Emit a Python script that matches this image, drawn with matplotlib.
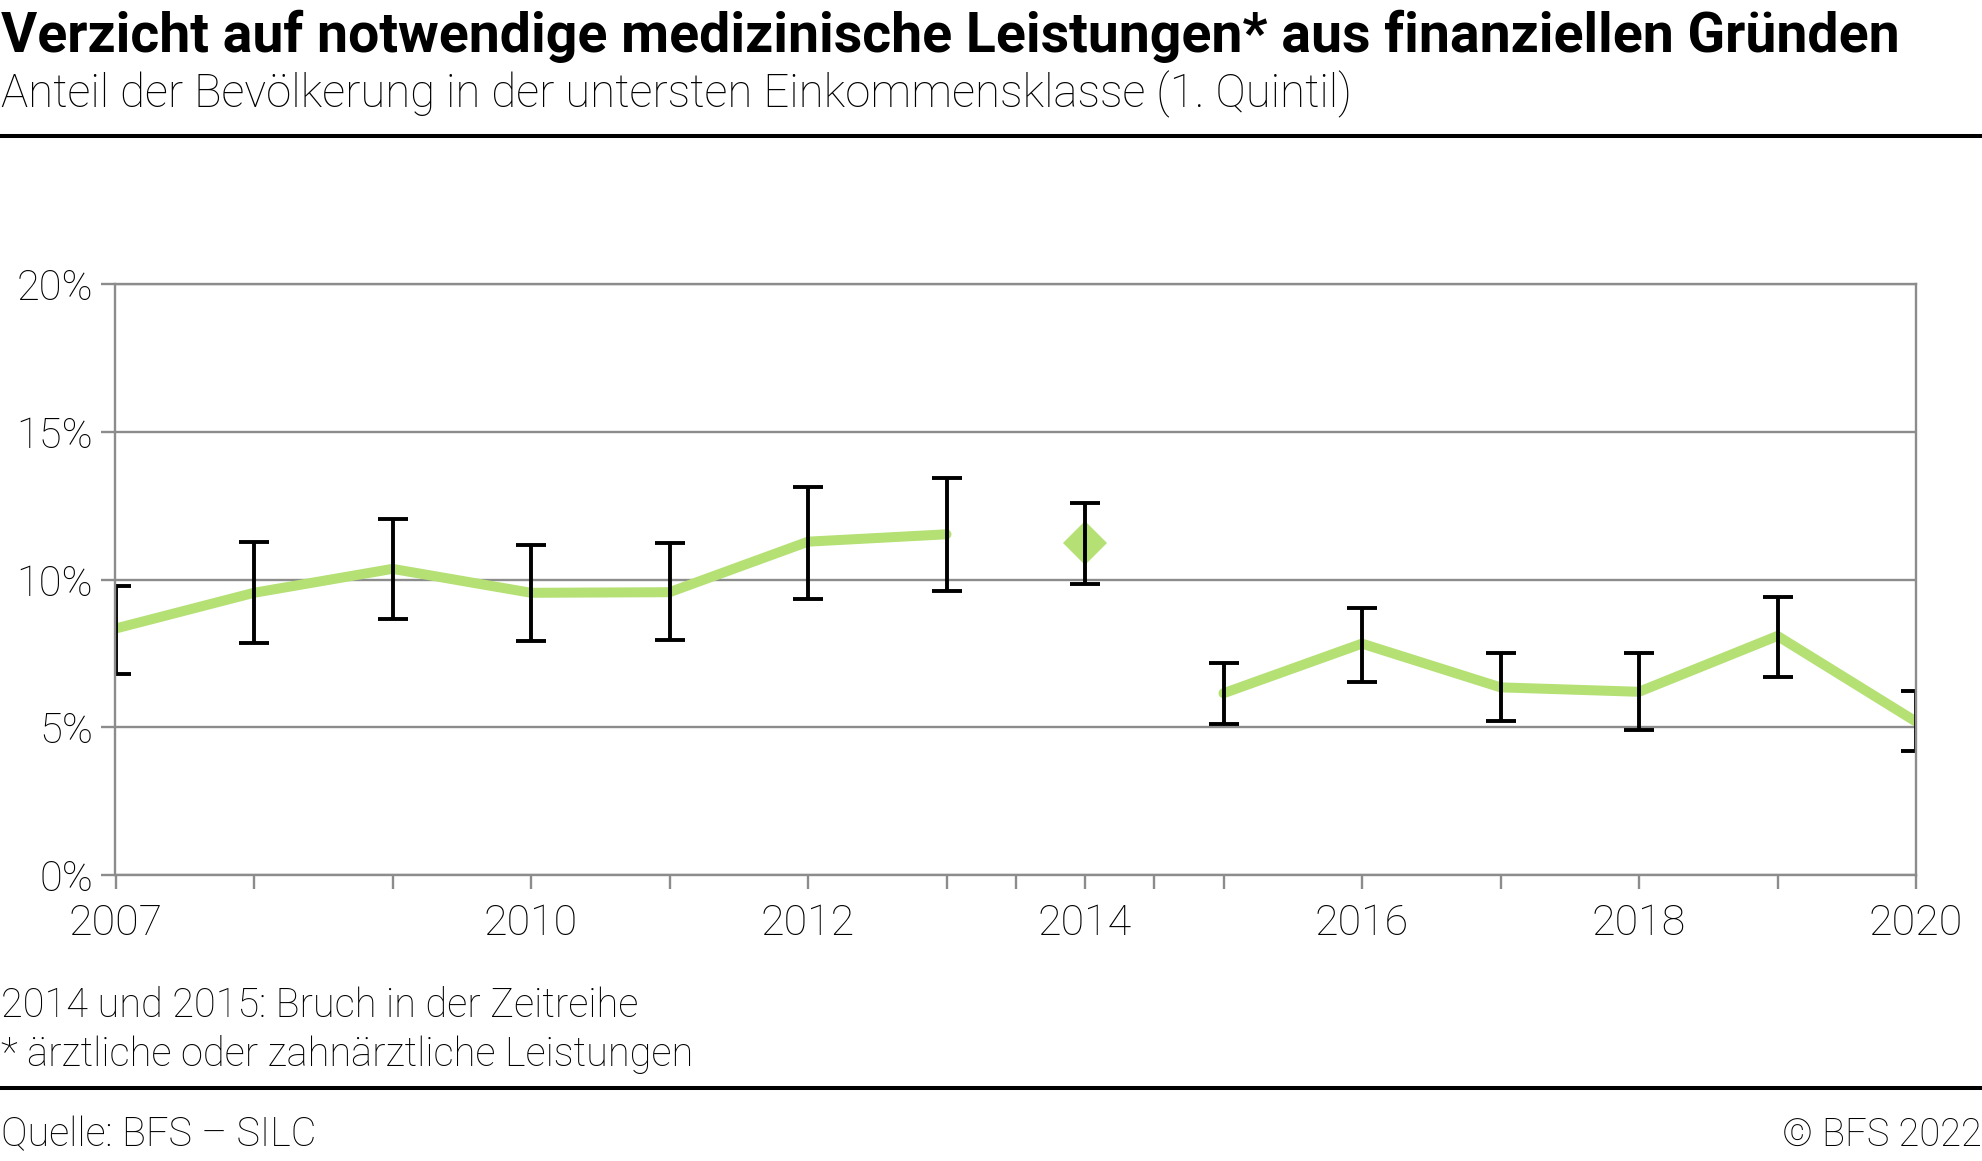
import numpy as np
import matplotlib
matplotlib.use('Agg')
import matplotlib.pyplot as plt

# Werte (in %)
jahre = [2007, 2008, 2009, 2010, 2011, 2012, 2013, 2014, 2015, 2016, 2017, 2018, 2019, 2020]
anteil = [8.34, 9.55, 10.36, 9.55, 9.57, 11.28, 11.53, 11.22, 6.15, 7.83, 6.35, 6.20, 8.09, 5.19]
oben = [9.78, 11.26, 12.05, 11.17, 11.23, 13.12, 13.45, 12.59, 7.17, 9.04, 7.51, 7.51, 9.42, 6.24]
unten = [6.80, 7.85, 8.66, 7.91, 7.95, 9.33, 9.60, 9.84, 5.11, 6.53, 5.22, 4.90, 6.70, 4.19]

xticks = [2007, 2008, 2009, 2010, 2011, 2012, 2013, 2013.5, 2014, 2014.5, 2015, 2016, 2017, 2018, 2019, 2020]
xlabels = ['2007', '', '', '2010', '', '2012', '', '', '2014', '', '', '2016', '', '2018', '', '2020']
yticks = [0, 5, 10, 15, 20]

titel = 'Verzicht auf notwendige medizinische Leistungen* aus finanziellen Gründen'
untertitel = 'Anteil der Bevölkerung in der untersten Einkommensklasse (1. Quintil)'
fussnote1 = '2014 und 2015: Bruch in der Zeitreihe'
fussnote2 = '* ärztliche oder zahnärztliche Leistungen'
quelle = 'Quelle: BFS – SILC'
copyright = '© BFS 2022'

gruen = '#b5e074'
grau = '#8c8c8c'

plt.rcParams['font.family'] = ['Roboto', 'DejaVu Sans']

W, H = 1983, 1161
fig = plt.figure(figsize=(W / 100, H / 100), dpi=100)
ax = fig.add_axes([115.5 / W, 1 - 875 / H, (1916 - 115.5) / W, (875 - 284) / H])

x = np.array(jahre)
y = np.array(anteil)
err = np.array([y - np.array(unten), np.array(oben) - y])

# Linie mit Bruch 2014 / 2015
vor = x <= 2013
nach = x >= 2015
ax.plot(x[vor], y[vor], color=gruen, lw=7.2, solid_capstyle='round', zorder=2.1)
ax.plot(x[nach], y[nach], color=gruen, lw=7.2, solid_capstyle='round', zorder=2.1)
einzel = x == 2014
ax.plot(x[einzel], y[einzel], ls='none', marker='D', ms=22, color=gruen, mew=0, zorder=2.2)

ax.errorbar(x, y, yerr=err, fmt='none', ecolor='black', elinewidth=2.8,
            capsize=11, capthick=2.8, zorder=2.4)

ax.set_xlim(2007, 2020)
ax.set_ylim(0, 20)
ax.set_xticks(xticks)
ax.set_xticklabels(xlabels)
ax.set_yticks(yticks)
ax.set_yticklabels([f'{v}%' for v in yticks])
ax.grid(axis='y', color=grau, lw=1.7)
ax.set_axisbelow(True)
for s in ax.spines.values():
    s.set_color(grau)
    s.set_linewidth(1.7)
ax.tick_params(axis='both', color=grau, width=1.7, length=10, labelcolor='black')
ax.tick_params(axis='y', labelsize=30, pad=6)
ax.tick_params(axis='x', labelsize=31, pad=10)
for lab in ax.get_xticklabels() + ax.get_yticklabels():
    lab.set_fontweight('light')

renderer = fig.canvas.get_renderer()


def text_px(xpx, ypx, s, breite, ha='left', **kw):
    t = fig.text(xpx / W, 1 - ypx / H, s, ha=ha, va='baseline', **kw)
    w = t.get_window_extent(renderer).width
    t.set_fontsize(t.get_fontsize() * breite / w)
    return t


text_px(1, 52, titel, 1898, fontsize=38, fontweight='bold')
text_px(1, 107, untertitel, 1351, fontsize=30, fontweight='light')
text_px(1, 1017, fussnote1, 639, fontsize=23, fontweight='light')
text_px(1, 1066, fussnote2, 693, fontsize=23, fontweight='light')
text_px(1, 1146, quelle, 316, fontsize=23, fontweight='light')
text_px(1982, 1146, copyright, 201, ha='right', fontsize=23, fontweight='light')

for ypx in (136, 1088):
    fig.add_artist(plt.Line2D([0, 1], [1 - ypx / H] * 2, color='black', lw=2.9,
                              transform=fig.transFigure))

fig.savefig('out.png', dpi=100)
